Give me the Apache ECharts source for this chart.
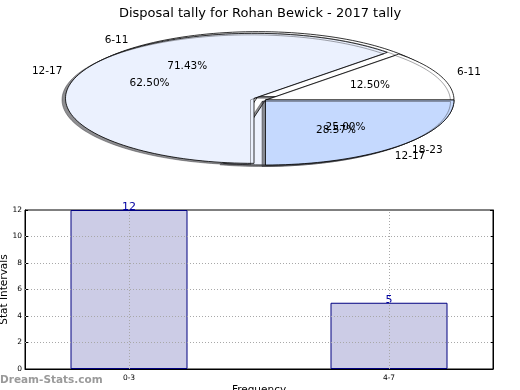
<!DOCTYPE html>
<html><head><meta charset="utf-8">
<script src="https://cdn.jsdelivr.net/npm/echarts@6/dist/echarts.min.js"></script>
<style>html,body{margin:0;padding:0;background:#fff}#c{width:520px;height:390px}</style>
</head><body><div id="c"></div>
<script>
// ---- data ----
const titleText = 'Disposal tally for Rohan Bewick - 2017 tally';
const pieTopCategories = ['6-11', '12-17', '18-23'];
const pieTopValues = [1, 5, 2];
const pieUnderCategories = ['6-11', '12-17'];
const pieUnderValues = [5, 2];
const barCategories = ['0-3', '4-7'];
const barValues = [12, 5];
const yAxisMax = 12;
const yAxisStep = 2;

// ---- style ----
const FONT = '"DejaVu Sans", sans-serif';
const GRIDLINE = { color: '#a8a8a8', type: [1, 2], width: 1 };
const pieTopColors = ['#ffffff', '#ebf1fe', '#c5d9fe'];
const pieTopExplode = [0, 0.066, 0];
const pieUnderColors = ['#ffffff', '#eef3ff'];
const pieUnderExplode = [0.066, 0];
const CX = 265.5, CY = 100, RX = 188.5, RY = 65;

function buildSlices(cats, vals, colors, explode) {
  const total = vals.reduce((a, b) => a + b, 0);
  let a = 0;
  return vals.map((v, i) => {
    const sweep = v / total * 360;
    const s = { name: cats[i], pct: (v / total * 100).toFixed(2) + '%', start: a, end: a + sweep, color: colors[i], explode: explode[i] };
    a += sweep;
    return s;
  });
}
const slicesUnder = buildSlices(pieUnderCategories, pieUnderValues, pieUnderColors, pieUnderExplode);
const slicesTop = buildSlices(pieTopCategories, pieTopValues, pieTopColors, pieTopExplode);
const allSlices = slicesUnder.concat(slicesTop);

function pt(s, angDeg, r) {
  const mid = (s.start + s.end) / 2 * Math.PI / 180;
  const ox = s.explode * RX * Math.cos(mid), oy = -s.explode * RY * Math.sin(mid);
  const a = angDeg * Math.PI / 180;
  return [CX + ox + r * RX * Math.cos(a), CY + oy - r * RY * Math.sin(a)];
}

function sliceRenderer(list) {
  return function (params) {
    const s = list[params.dataIndex];
    const pts = [pt(s, 0, 0)];
    const n = Math.max(8, Math.ceil((s.end - s.start) / 2));
    for (let k = 0; k <= n; k++) pts.push(pt(s, s.start + (s.end - s.start) * k / n, 1));
    return {
      type: 'polygon',
      shape: { points: pts },
      style: { fill: s.color, stroke: '#000', lineWidth: 0.8,
        shadowColor: 'rgba(50,50,55,0.55)', shadowOffsetX: -3.5, shadowOffsetY: 1.5, shadowBlur: 0 }
    };
  };
}

function labelRenderer(params) {
  const s = allSlices[params.dataIndex];
  const mid = (s.start + s.end) / 2;
  const lp = pt(s, mid, 1.1);
  const pp = pt(s, mid, 0.6);
  const right = Math.cos(mid * Math.PI / 180) > 0;
  return {
    type: 'group',
    children: [
      { type: 'text', x: lp[0], y: lp[1], style: { text: s.name, fill: '#000', font: '10.5px ' + FONT, align: right ? 'left' : 'right', verticalAlign: 'middle' } },
      { type: 'text', x: pp[0], y: pp[1], style: { text: s.pct, fill: '#000', font: '10.5px ' + FONT, align: 'center', verticalAlign: 'middle' } }
    ]
  };
}

// grid lines drawn over the bars (as in the original), from the axis steps and category positions
const gridLineData = [];
for (let v = yAxisStep; v < yAxisMax; v += yAxisStep) gridLineData.push({ yAxis: v });
barCategories.forEach((c, i) => gridLineData.push({ xAxis: i }));

const chart = echarts.init(document.getElementById('c'), null, { renderer: 'canvas' });
chart.setOption({
  animation: false,
  backgroundColor: '#fff',
  title: { text: titleText, left: 'center', top: 2, textStyle: { fontSize: 13, fontWeight: 'normal', fontFamily: FONT, color: '#000' } },
  graphic: [{ type: 'text', left: 0, top: 375, style: { text: 'Dream-Stats.com', fill: '#9a9a9a', font: 'bold 10.5px ' + FONT } }],
  grid: { left: 25, right: 27, top: 210, bottom: 21, show: true, borderColor: '#000', borderWidth: 1, containLabel: false, outerBoundsMode: 'none' },
  xAxis: {
    type: 'value', min: -0.4, max: 1.4,
    name: 'Frequency', nameLocation: 'middle', nameGap: 16, nameMoveOverlap: false,
    nameTextStyle: { fontSize: 10.5, fontFamily: FONT, color: '#000' },
    axisLine: { show: true, onZero: false, lineStyle: { color: '#000' } },
    axisTick: { show: true, inside: true, length: 3, customValues: [0, 1], lineStyle: { color: '#000' } },
    axisLabel: { customValues: [0, 1], formatter: v => barCategories[Math.round(v)], fontSize: 7.5, fontFamily: FONT, color: '#000', margin: 5 },
    splitLine: { show: false }
  },
  yAxis: [{
    type: 'value', min: 0, max: yAxisMax, interval: yAxisStep,
    name: 'Stat Intervals', nameLocation: 'middle', nameGap: 15, nameMoveOverlap: false,
    nameTextStyle: { fontSize: 10.5, fontFamily: FONT, color: '#000' },
    axisLine: { show: true, onZero: false, lineStyle: { color: '#000' } },
    axisTick: { show: true, inside: true, length: 3, lineStyle: { color: '#000' } },
    axisLabel: { fontSize: 7.5, fontFamily: FONT, color: '#000', margin: 3 },
    splitLine: { show: false }
  }, {
    type: 'value', min: 0, max: yAxisMax, interval: yAxisStep, position: 'right',
    axisLine: { show: true, onZero: false, lineStyle: { color: '#000' } },
    axisTick: { show: true, inside: true, length: 3, lineStyle: { color: '#000' } },
    axisLabel: { show: false }, splitLine: { show: false }
  }],
  series: [
    { type: 'custom', coordinateSystem: 'none', z: 2, renderItem: sliceRenderer(slicesUnder), data: slicesUnder.map((s, i) => i), silent: true },
    { type: 'custom', coordinateSystem: 'none', z: 3, renderItem: sliceRenderer(slicesTop), data: slicesTop.map((s, i) => i), silent: true },
    { type: 'custom', coordinateSystem: 'none', z: 5, renderItem: labelRenderer, data: allSlices.map((s, i) => i), silent: true },
    {
      type: 'bar', xAxisIndex: 0, yAxisIndex: 0, barWidth: 117,
      data: barValues.map((v, i) => [i, v]),
      itemStyle: { color: '#ccccE6', borderColor: '#000080', borderWidth: 1 },
      label: { show: true, position: 'top', distance: -3, color: '#0000a0', fontSize: 11, fontFamily: FONT, formatter: p => p.value[1] },
      markLine: { silent: true, symbol: 'none', z: 6, label: { show: false }, lineStyle: GRIDLINE, emphasis: { disabled: true }, data: gridLineData }
    }
  ]
});
</script></body></html>
